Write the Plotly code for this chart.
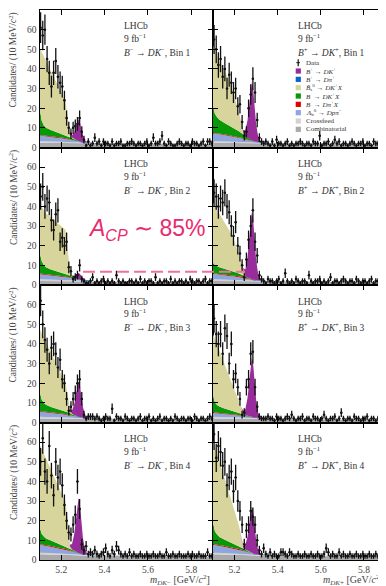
import math
import plotly.graph_objects as go

# page body has an 8px margin, so the figure is drawn 8px in from the window corner
OFF = 8
W, H = 386 - OFF, 586 - OFF

# ---------------- data ----------------
bin_lo = 5.10
bin_w = 0.01

knots = [5.10, 5.11, 5.12, 5.13, 5.15, 5.175, 5.20, 5.22, 5.23, 5.24, 5.25,
         5.26, 5.27, 5.275, 5.28, 5.285, 5.29, 5.30, 5.31, 5.32, 5.35, 5.90]

crossfeed = [0.8, 0.8, 0.8, 0.7, 0.7, 0.6, 0.6, 0.5, 0.5, 0.5, 0.4, 0.4, 0.4, 0.4, 0.3, 0.3, 0.3, 0.3, 0.3, 0.2, 0.2, 0.1]
red_dpix = [0.3, 0.3, 0.3, 0.4, 0.4, 0.4, 0.4, 0.4, 0.3, 0.3, 0.2, 0.2, 0.1, 0.1, 0.1, 0.05, 0, 0, 0, 0, 0, 0]
blue_dpi = [0, 0, 0, 0, 0, 0, 0, 0, 0, 0, 0, 0.05, 0.1, 0.1, 0.15, 0.2, 0.2, 0.25, 0.25, 0.2, 0.1, 0]

comb_bin1 = [2.4, 2.4, 2.4, 2.4, 2.3, 2.3, 2.3, 2.3, 2.3, 2.2, 2.2, 2.2, 2.2, 2.2, 2.2, 2.2, 2.1, 2.1, 2.1, 2.1, 2.0, 1.6]
comb_bin2 = [2.1, 2.1, 2.1, 2.1, 2.0, 2.0, 2.0, 2.0, 2.0, 2.0, 1.9, 1.9, 1.9, 1.9, 1.9, 1.9, 1.9, 1.9, 1.8, 1.8, 1.8, 1.4]
comb_bin3 = [2.1, 2.1, 2.1, 2.1, 2.0, 2.0, 2.0, 2.0, 2.0, 2.0, 1.9, 1.9, 1.9, 1.9, 1.9, 1.9, 1.9, 1.9, 1.8, 1.8, 1.8, 1.4]
comb_bin4 = [2.9, 2.9, 2.9, 2.8, 2.8, 2.7, 2.7, 2.6, 2.6, 2.5, 2.5, 2.4, 2.4, 2.4, 2.3, 2.3, 2.3, 2.2, 2.2, 2.2, 2.1, 1.7]

L1_lamb = [2.9, 2.8, 2.7, 2.6, 2.4, 2.1, 1.8, 1.5, 1.4, 1.2, 1.0, 0.8, 0.6, 0.5, 0.4, 0.3, 0.3, 0.2, 0.1, 0.05, 0, 0]
R1_lamb = [4.0, 3.9, 3.8, 3.6, 3.3, 2.9, 2.5, 2.1, 1.9, 1.7, 1.4, 1.1, 0.8, 0.7, 0.6, 0.5, 0.4, 0.3, 0.2, 0.1, 0, 0]
L2_lamb = [2.6, 2.5, 2.4, 2.3, 2.1, 1.9, 1.6, 1.4, 1.2, 1.1, 0.9, 0.7, 0.5, 0.4, 0.35, 0.3, 0.25, 0.15, 0.1, 0.05, 0, 0]
R2_lamb = [2.8, 2.7, 2.6, 2.5, 2.3, 2.0, 1.7, 1.5, 1.3, 1.2, 1.0, 0.8, 0.6, 0.5, 0.4, 0.3, 0.25, 0.15, 0.1, 0.05, 0, 0]
L3_lamb = [2.6, 2.5, 2.4, 2.3, 2.1, 1.9, 1.6, 1.4, 1.2, 1.1, 0.9, 0.7, 0.5, 0.4, 0.35, 0.3, 0.25, 0.15, 0.1, 0.05, 0, 0]
R3_lamb = [2.0, 1.9, 1.8, 1.7, 1.6, 1.4, 1.2, 1.0, 0.9, 0.8, 0.7, 0.5, 0.4, 0.3, 0.3, 0.2, 0.2, 0.1, 0.1, 0.05, 0, 0]
L4_lamb = [4.0, 3.9, 3.8, 3.6, 3.3, 2.9, 2.5, 2.1, 1.9, 1.7, 1.4, 1.1, 0.8, 0.7, 0.6, 0.5, 0.4, 0.3, 0.2, 0.1, 0, 0]
R4_lamb = [4.0, 3.9, 3.8, 3.6, 3.3, 2.9, 2.5, 2.1, 1.9, 1.7, 1.4, 1.1, 0.8, 0.7, 0.6, 0.5, 0.4, 0.3, 0.2, 0.1, 0, 0]

L1_green = [14, 7.5, 5.0, 4.0, 3.2, 2.6, 2.0, 1.6, 1.4, 1.2, 0.9, 0.6, 0.4, 0.3, 0.2, 0.1, 0, 0, 0, 0, 0, 0]
R1_green = [12.5, 9.5, 8.0, 7.0, 6.0, 5.0, 4.0, 3.0, 2.5, 2.0, 1.4, 0.9, 0.5, 0.4, 0.3, 0.2, 0.1, 0, 0, 0, 0, 0]
L2_green = [11.2, 6.5, 4.5, 3.6, 2.8, 2.2, 1.7, 1.3, 1.1, 0.9, 0.7, 0.5, 0.3, 0.2, 0.1, 0.1, 0, 0, 0, 0, 0, 0]
R2_green = [5.0, 4.2, 3.7, 3.3, 2.8, 2.3, 1.9, 1.5, 1.3, 1.1, 0.8, 0.5, 0.3, 0.2, 0.1, 0.1, 0, 0, 0, 0, 0, 0]
L3_green = [10.2, 6.0, 4.3, 3.5, 2.8, 2.2, 1.7, 1.3, 1.1, 0.9, 0.7, 0.5, 0.3, 0.2, 0.1, 0.1, 0, 0, 0, 0, 0, 0]
R3_green = [7.8, 5.0, 3.8, 3.2, 2.6, 2.0, 1.6, 1.2, 1.0, 0.8, 0.6, 0.4, 0.3, 0.2, 0.1, 0.1, 0, 0, 0, 0, 0, 0]
L4_green = [9.0, 5.5, 4.2, 3.5, 2.8, 2.2, 1.7, 1.3, 1.1, 0.9, 0.7, 0.5, 0.3, 0.2, 0.1, 0.1, 0, 0, 0, 0, 0, 0]
R4_green = [10, 6.5, 5.0, 4.2, 3.4, 2.7, 2.1, 1.6, 1.3, 1.0, 0.8, 0.5, 0.3, 0.2, 0.1, 0.1, 0, 0, 0, 0, 0, 0]

L1_khaki = [30.6, 34.9, 35.3, 34.1, 30.7, 26.1, 21.4, 17.2, 9.1, 2.6, 0.4, 0, 0, 0, 0, 0, 0, 0, 0, 0, 0, 0]
R1_khaki = [32, 32.1, 31.2, 29.9, 27.3, 22.8, 16.2, 9.7, 5.5, 1.3, 0.2, 0, 0, 0, 0, 0, 0, 0, 0, 0, 0, 0]
L2_khaki = [24.5, 27.3, 27.9, 27.4, 26.5, 24.9, 23.7, 22.4, 12.9, 3.2, 0.3, 0, 0, 0, 0, 0, 0, 0, 0, 0, 0, 0]
R2_khaki = [31, 29.9, 28.5, 27, 24.3, 20.7, 15.4, 9.6, 6.1, 2.4, 0.2, 0, 0, 0, 0, 0, 0, 0, 0, 0, 0, 0]
L3_khaki = [32, 34, 33.5, 32, 28.4, 23.5, 18.5, 14.4, 8.9, 1.7, 0.2, 0, 0, 0, 0, 0, 0, 0, 0, 0, 0, 0]
R3_khaki = [32, 31.9, 30.5, 28.3, 23.4, 17.2, 10.6, 5.6, 3.3, 0.8, 0, 0, 0, 0, 0, 0, 0, 0, 0, 0, 0, 0]
L4_khaki = [42, 43.1, 42, 40.6, 36.6, 31.6, 26.3, 22.6, 14.6, 1.1, 0.2, 0, 0, 0, 0, 0, 0, 0, 0, 0, 0, 0]
R4_khaki = [43, 43.1, 41.2, 38.8, 32.9, 25.2, 16.7, 10.3, 5.4, 0.5, 0, 0, 0, 0, 0, 0, 0, 0, 0, 0, 0, 0]

L1_sig = [0, 0, 0, 0, 0, 0, 0, 0, 0, 0.3, 1.1, 3.3, 7.2, 9.4, 11, 10.4, 7.7, 3.3, 0.9, 0.2, 0, 0]
R1_sig = [0, 0, 0, 0, 0, 0, 0, 0, 0, 0.9, 3.0, 8.9, 19.2, 25.1, 29.5, 28, 20.7, 8.9, 2.4, 0.6, 0, 0]
L2_sig = [0, 0, 0, 0, 0, 0, 0, 0, 0, 0.1, 0.3, 1.0, 2.1, 2.7, 3.2, 3.0, 2.2, 1.0, 0.3, 0.1, 0, 0]
R2_sig = [0, 0, 0, 0, 0, 0, 0, 0, 0, 1.0, 3.4, 10.2, 22.1, 28.9, 34, 32.3, 23.8, 10.2, 2.7, 0.7, 0, 0]
L3_sig = [0, 0, 0, 0, 0, 0, 0, 0, 0, 0.5, 1.8, 5.4, 11.7, 15.3, 18, 17.1, 12.6, 5.4, 1.4, 0.4, 0, 0]
R3_sig = [0, 0, 0, 0, 0, 0, 0, 0, 0, 0.9, 3.0, 9.0, 19.5, 25.5, 30, 28.5, 21, 9.0, 2.4, 0.6, 0, 0]
L4_sig = [0, 0, 0, 0, 0, 0, 0, 0, 0, 0.8, 2.8, 8.4, 18.2, 23.8, 28, 26.6, 19.6, 8.4, 2.2, 0.6, 0, 0]
R4_sig = [0, 0, 0, 0, 0, 0, 0, 0, 0, 0.7, 2.4, 7.1, 15.3, 20, 23.5, 22.3, 16.5, 7.1, 1.9, 0.5, 0, 0]

# candidates per 10 MeV bin, starting at 5.10 GeV
L1_data = [61, 57, 60, 45, 38, 31, 38, 44, 36, 33, 31, 24, 15, 10, 7, 10, 11, 12, 15, 8, 4, 1,
           3, 1, 2, 5, 2, 3, 1, 3, 2, 2, 1, 3, 1, 2, 2, 3, 1, 1, 2, 2, 3, 2, 1, 2, 2, 1, 2, 3, 1, 2,
           5, 2, 2, 3, 6, 2, 1, 3, 2, 1, 1, 2, 3, 2, 1, 2, 2, 1, 3, 2, 2, 1, 2, 3, 1, 3, 3, 2]
R1_data = [55, 50, 42, 45, 36, 40, 30, 37, 33, 28, 30, 21, 22, 13, 6, 8, 20, 27, 35, 28, 14, 5, 3,
           2, 3, 2, 1, 3, 1, 4, 2, 2, 1, 2, 3, 1, 2, 1, 2, 2, 3, 2, 1, 2, 2, 1, 3, 2, 2, 6, 1, 2, 2,
           3, 1, 2, 4, 2, 3, 1, 2, 2, 1, 2, 3, 2, 1, 2, 2, 3, 1, 2, 2, 1, 3, 2, 2, 1, 2, 2]
L2_data = [45, 50, 40, 44, 42, 33, 28, 36, 38, 22, 24, 20, 22, 9, 7, 3, 4, 5, 10, 3, 2, 1,
           1, 2, 4, 1, 2, 1, 2, 3, 1, 2, 1, 2, 1, 5, 2, 1, 2, 1, 1, 2, 2, 1, 2, 1, 3, 1, 2, 1, 2, 2,
           1, 4, 1, 2, 1, 2, 2, 1, 3, 1, 2, 1, 2, 2, 1, 2, 1, 3, 2, 1, 2, 2, 1, 2, 3, 1, 2, 2]
R2_data = [47, 45, 40, 44, 42, 47, 40, 37, 30, 25, 32, 20, 16, 10, 4, 13, 23, 30, 38, 22, 15, 5, 3,
           2, 1, 3, 2, 2, 1, 2, 3, 1, 2, 6, 2, 1, 2, 1, 3, 2, 1, 2, 2, 1, 5, 2, 1, 2, 2, 3, 1, 2, 1,
           2, 4, 1, 2, 2, 1, 2, 3, 2, 1, 2, 2, 1, 3, 2, 1, 2, 2, 1, 2, 3, 1, 2, 2, 1, 2, 2]
L3_data = [62, 50, 42, 37, 30, 38, 40, 35, 28, 32, 22, 20, 12, 6, 8, 12, 15, 20, 22, 12, 4, 2,
           3, 3, 3, 2, 3, 2, 1, 2, 3, 2, 2, 7, 1, 3, 2, 2, 1, 3, 2, 1, 2, 2, 1, 2, 3, 1, 2, 2, 3, 1,
           2, 1, 2, 3, 1, 2, 2, 1, 2, 1, 3, 2, 1, 2, 2, 1, 2, 2, 1, 3, 2, 1, 2, 2, 1, 2, 3, 2]
R3_data = [53, 45, 40, 45, 35, 48, 44, 30, 40, 22, 25, 18, 12, 4, 5, 18, 22, 35, 36, 18, 8, 3, 2,
           2, 2, 3, 2, 2, 1, 3, 2, 2, 1, 2, 3, 2, 4, 2, 1, 2, 2, 3, 1, 2, 2, 1, 3, 2, 2, 1, 2, 4, 2,
           1, 2, 2, 3, 1, 2, 5, 2, 1, 2, 2, 1, 3, 2, 2, 1, 2, 2, 3, 1, 2, 2, 1, 2, 2, 3, 1]
L4_data = [50, 62, 45, 40, 58, 43, 33, 50, 42, 45, 38, 28, 20, 14, 13, 18, 23, 40, 26, 8, 5, 7, 3,
           4, 3, 5, 3, 2, 3, 4, 6, 3, 2, 5, 3, 7, 5, 3, 2, 3, 2, 4, 2, 3, 2, 2, 3, 2, 2, 3, 2, 2, 3,
           2, 2, 3, 2, 2, 4, 2, 2, 3, 2, 2, 3, 2, 2, 2, 3, 2, 3, 2, 2, 3, 2, 2, 2, 4, 2, 2]
R4_data = [64, 52, 58, 55, 48, 50, 38, 42, 45, 35, 42, 30, 25, 18, 8, 15, 18, 25, 22, 18, 10, 5, 3, 6,
           3, 2, 4, 2, 3, 2, 2, 4, 4, 3, 2, 4, 3, 2, 2, 3, 2, 2, 3, 2, 2, 3, 2, 2, 3, 2, 2, 3, 6, 4,
           2, 3, 2, 2, 4, 2, 3, 2, 2, 3, 2, 2, 3, 2, 2, 3, 2, 2, 3, 2, 2, 3, 2, 2, 3, 2]

x_tickvals = [5.2, 5.4, 5.6, 5.8]
x_ticktext = ["5.2", "5.4", "5.6", "5.8"]
y_tickvals_top = [0, 10, 20, 30, 40, 50, 60, 70]
y_tickvals = [0, 10, 20, 30, 40, 50, 60]

# ---------------- style ----------------
C_COMB = "#a9a9a9"
C_CROSS = "#d2d2d2"
C_LAMB = "#8ea6dc"
C_RED = "#e00000"
C_GREEN = "#089808"
C_KHAKI = "#d8d59c"
C_BLUE = "#0a62cc"
C_SIG = "#982c9a"
PINK = "#ea2a6e"
PINK_L = "#ef7198"
SERIF = "Liberation Serif"
TXT = "#333333"

# positions in window pixels (reference picture)
col_x = [(39.5, 213.0), (213.0, 385.5)]
row_y = [(10.0, 147.5), (147.5, 285.0), (285.0, 422.5), (422.5, 560.0)]


def pxx(x):
    return (x - OFF) / W


def pxy(y):
    return 1 - (y - OFF) / H


panels = [
    (0, 0, "−", 1, L1_data, comb_bin1, L1_lamb, L1_green, L1_khaki, L1_sig),
    (0, 1, "+", 1, R1_data, comb_bin1, R1_lamb, R1_green, R1_khaki, R1_sig),
    (1, 0, "−", 2, L2_data, comb_bin2, L2_lamb, L2_green, L2_khaki, L2_sig),
    (1, 1, "+", 2, R2_data, comb_bin2, R2_lamb, R2_green, R2_khaki, R2_sig),
    (2, 0, "−", 3, L3_data, comb_bin3, L3_lamb, L3_green, L3_khaki, L3_sig),
    (2, 1, "+", 3, R3_data, comb_bin3, R3_lamb, R3_green, R3_khaki, R3_sig),
    (3, 0, "−", 4, L4_data, comb_bin4, L4_lamb, L4_green, L4_khaki, L4_sig),
    (3, 1, "+", 4, R4_data, comb_bin4, R4_lamb, R4_green, R4_khaki, R4_sig),
]

fig = go.Figure()
annotations = []
shapes = []
layout_axes = {}

for (r, c, ch, b, data, comb, lamb, green, khaki, sig) in panels:
    n = r * 2 + c + 1
    xa = "x" if n == 1 else f"x{n}"
    ya = "y" if n == 1 else f"y{n}"
    sg = f"s{n}"
    comps = [(comb, C_COMB), (crossfeed, C_CROSS), (lamb, C_LAMB), (red_dpix, C_RED),
             (green, C_GREEN), (khaki, C_KHAKI), (blue_dpi, C_BLUE), (sig, C_SIG)]
    for vals, col in comps:
        fig.add_trace(go.Scatter(x=knots, y=vals, xaxis=xa, yaxis=ya, mode="lines",
                                 stackgroup=sg, line=dict(width=0, color=col),
                                 fillcolor=col, showlegend=False, hoverinfo="skip"))
    xs = [bin_lo + bin_w * (i + 0.5) for i in range(len(data))]
    eplus = [math.sqrt(v) if v > 0 else 1.15 for v in data]
    eminus = [math.sqrt(v) for v in data]
    fig.add_trace(go.Scatter(
        x=xs, y=data, xaxis=xa, yaxis=ya, mode="markers",
        marker=dict(size=2.5, color="#111111"),
        error_y=dict(type="data", symmetric=False, array=eplus, arrayminus=eminus,
                     thickness=1.3, width=0, color="#111111"),
        error_x=dict(type="constant", value=bin_w / 2, thickness=1.0, width=0, color="#111111"),
        showlegend=False, hoverinfo="skip"))

    x0, x1 = col_x[c]
    y0, y1 = row_y[r]
    axkw = dict(showline=True, linecolor="black", linewidth=1.3, mirror="ticks",
                ticks="inside", ticklen=5, tickwidth=1, tickcolor="black",
                showgrid=False, zeroline=False, automargin=False, fixedrange=True,
                tickfont=dict(family=SERIF, size=9.5, color="#444444"))
    layout_axes["xaxis" if n == 1 else f"xaxis{n}"] = dict(
        domain=[pxx(x0), min(1.0, pxx(x1))], anchor=ya, range=[5.1, 5.9],
        tickvals=x_tickvals, ticktext=x_ticktext, showticklabels=(r == 3), **axkw)
    layout_axes["yaxis" if n == 1 else f"yaxis{n}"] = dict(
        domain=[pxy(y1), pxy(y0)], anchor=xa, range=[0, 70],
        tickvals=(y_tickvals_top if r == 0 else y_tickvals), showticklabels=(c == 0), **axkw)

    tx = x0 + 82.5
    for dy, txt, fs in [(16.5, "LHCb", 9.5), (28, "9 fb<sup>−1</sup>", 9.5),
                        (42, f"<i>B</i><sup>{ch}</sup> → <i>DK</i><sup>{ch}</sup>, Bin {b}", 9.5)]:
        annotations.append(dict(x=pxx(tx), y=pxy(y0 + dy), xref="paper", yref="paper",
                                text=txt, showarrow=False, xanchor="left", yanchor="middle",
                                font=dict(family=SERIF, size=fs, color=TXT)))

# y-axis titles
for r in range(4):
    annotations.append(dict(x=pxx(13), y=pxy(row_y[r][0] + 1), xref="paper", yref="paper",
                            text="Candidates/ (10 MeV/<i>c</i><sup>2</sup>)", textangle=-90,
                            showarrow=False, xanchor="center", yanchor="top",
                            font=dict(family=SERIF, size=9.5, color="#444444")))
# x-axis titles
annotations.append(dict(x=pxx(212), y=pxy(580), xref="paper", yref="paper",
                        text="<i>m</i><sub><i>DK</i>−</sub> [GeV/<i>c</i><sup>2</sup>]",
                        showarrow=False, xanchor="right", yanchor="middle",
                        font=dict(family=SERIF, size=10, color="#444444")))
annotations.append(dict(x=pxx(385), y=pxy(580), xref="paper", yref="paper",
                        text="<i>m</i><sub><i>DK</i>+</sub> [GeV/<i>c</i><sup>2</sup>]",
                        showarrow=False, xanchor="right", yanchor="middle",
                        font=dict(family=SERIF, size=10, color="#444444")))

# legend in first B+ panel
leg_items = [
    ("<i>B</i><sup>+</sup> → <i>DK</i><sup>+</sup>", C_SIG),
    ("<i>B</i><sup>+</sup> → <i>Dπ</i><sup>+</sup>", C_BLUE),
    ("<i>B̄</i><sub>s</sub><sup>0</sup> → <i>DK</i><sup>+</sup><i>X</i>", C_KHAKI),
    ("<i>B</i>  → <i>DK</i><sup>+</sup><i>X</i>", C_GREEN),
    ("<i>B</i>  → <i>Dπ</i><sup>+</sup><i>X</i>", C_RED),
    ("<i>Λ</i><sub>b</sub><sup>0</sup> → <i>Dpπ</i><sup>−</sup>", C_LAMB),
    ("Crossfeed", C_CROSS),
    ("Combinatorial", C_COMB),
]
ly0 = 62.7
dy = 8.33
annotations.append(dict(x=pxx(304), y=pxy(ly0), xref="paper", yref="paper", text="Data",
                        showarrow=False, xanchor="left", yanchor="middle",
                        font=dict(family=SERIF, size=7, color=TXT)))
shapes.append(dict(type="line", xref="paper", yref="paper", x0=pxx(298.2), x1=pxx(298.2),
                   y0=pxy(ly0 - 3.5), y1=pxy(ly0 + 3.5), line=dict(color="#111111", width=1.2)))
shapes.append(dict(type="line", xref="paper", yref="paper", x0=pxx(296.4), x1=pxx(300.0),
                   y0=pxy(ly0), y1=pxy(ly0), line=dict(color="#111111", width=1.0)))
for i, (txt, col) in enumerate(leg_items):
    yc = ly0 + dy * (i + 1)
    shapes.append(dict(type="rect", xref="paper", yref="paper", x0=pxx(295.7), x1=pxx(300.9),
                       y0=pxy(yc + 2.6), y1=pxy(yc - 2.6), fillcolor=col, line=dict(width=0)))
    annotations.append(dict(x=pxx(304), y=pxy(yc), xref="paper", yref="paper", text=txt,
                            showarrow=False, xanchor="left", yanchor="middle",
                            font=dict(family=SERIF, size=7, color=TXT)))

# A_CP annotation
annotations.append(dict(x=pxx(86), y=pxy(229.5), xref="paper", yref="paper",
                        text="<i>A</i><sub><i>CP</i></sub> ∼ 85%", showarrow=False,
                        xanchor="left", yanchor="middle",
                        font=dict(family="Liberation Sans", size=23, color=PINK)))
shapes.append(dict(type="line", xref="paper", yref="paper", x0=pxx(83), x1=pxx(245),
                   y0=pxy(271.7), y1=pxy(271.7),
                   line=dict(color=PINK_L, width=2, dash="12px,5px")))

fig.update_layout(width=W, height=H, autosize=False,
                  margin=dict(l=0, r=0, t=0, b=0),
                  paper_bgcolor="white", plot_bgcolor="rgba(0,0,0,0)",
                  showlegend=False, annotations=annotations, shapes=shapes,
                  **layout_axes)

fig.write_html("out.html")
